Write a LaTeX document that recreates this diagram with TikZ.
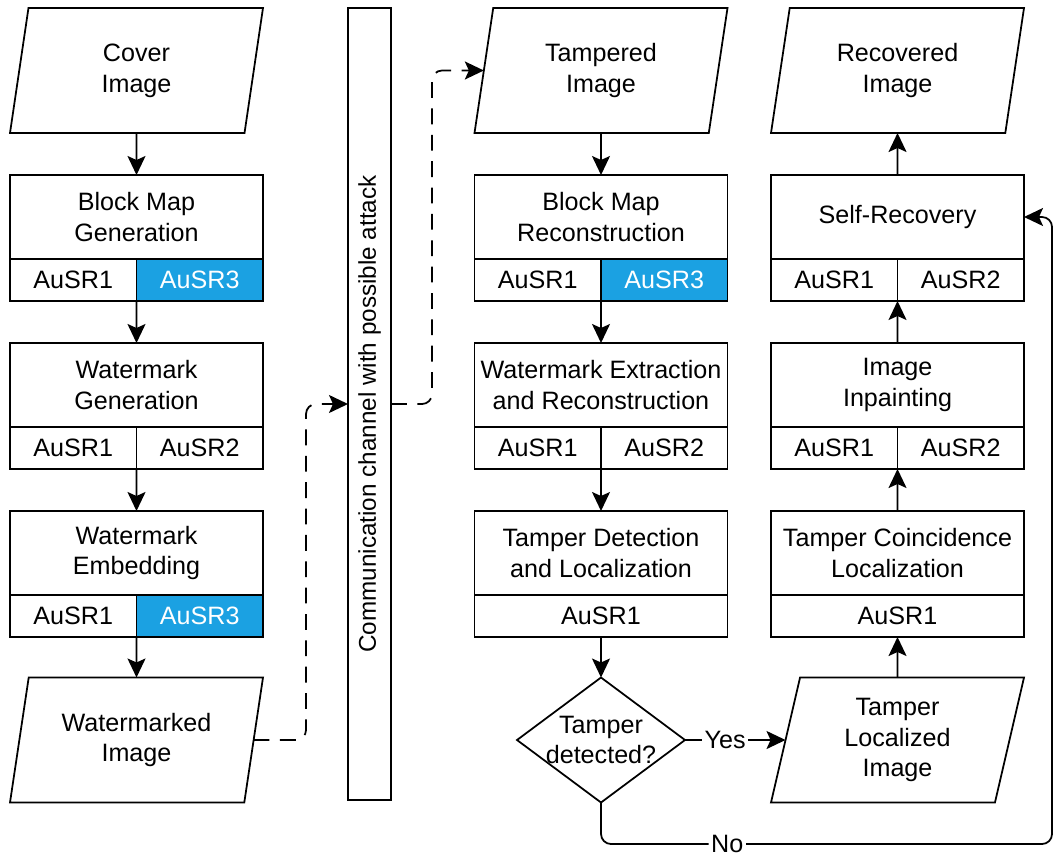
\documentclass[tikz,border=0pt]{standalone}
\usepackage{fontspec}
\setmainfont{Liberation Sans}
\usetikzlibrary{shapes.geometric,arrows.meta,positioning}

\definecolor{ausrblau}{RGB}{27,161,226}

\tikzset{
	schritt/.style={draw, line width=1pt, minimum width=5.06cm, minimum height=1.68cm, inner sep=0pt, outer sep=0pt, align=center},
	teil/.style={draw, line width=1pt, minimum width=2.53cm, minimum height=0.84cm, inner sep=0pt, outer sep=0pt},
	teilbreit/.style={teil, minimum width=5.06cm},
	markiert/.style={fill=ausrblau, text=white},
	bild/.style={draw, line width=1pt, trapezium, trapezium left angle=71, trapezium right angle=109,
		trapezium stretches body=true, minimum width=5.06cm, minimum height=2.5cm, inner sep=0pt, outer sep=0pt, align=center},
	frage/.style={draw, line width=1pt, diamond, aspect=1.34, inner sep=-0.6cm, outer sep=0pt,
		minimum width=3.36cm, minimum height=2.5cm, align=center},
	pfeil/.style={line width=1pt, -{Stealth[length=0.38cm, width=0.36cm, inset=0.08cm]}},
	funk/.style={pfeil, dash pattern=on 9pt off 6pt, rounded corners=0.2cm},
	marke/.style={fill=white, inner xsep=1.5pt, inner ysep=0pt}
}

\begin{document}
\begin{tikzpicture}[font=\fontsize{14.3pt}{17.6pt}\selectfont]
			\useasboundingbox (0,0) rectangle (21.14,-17.12);
			
			% Linke Spalte: Einbetten des Wasserzeichens
			\node[bild] (cover) at (2.73,-1.41) {Cover\\Image};
			\node[schritt] (bmg) at (2.73,-4.34) {Block Map\\Generation};
			\node[teil, anchor=north west] (bmgA) at (bmg.south west) {AuSR1};
			\node[teil, markiert, anchor=north east] (bmgB) at (bmg.south east) {AuSR3};
			\node[schritt] (wmg) at (2.73,-7.7) {Watermark\\Generation};
			\node[teil, anchor=north west] (wmgA) at (wmg.south west) {AuSR1};
			\node[teil, anchor=north east] (wmgB) at (wmg.south east) {AuSR2};
			\node[schritt] (wme) at (2.73,-11.06) {Watermark\\Embedding};
			\node[teil, anchor=north west] (wmeA) at (wme.south west) {AuSR1};
			\node[teil, markiert, anchor=north east] (wmeB) at (wme.south east) {AuSR3};
			\node[bild] (wmi) at (2.73,-14.8) {Watermarked\\Image};
			
			% Kanal in der Mitte (Text etwas nach unten versetzt)
			\node[draw, line width=1pt, rotate=90, minimum width=15.84cm, minimum height=0.86cm, inner sep=0pt,
				outer sep=0pt, font=\fontsize{13.8pt}{16pt}\selectfont]
				(kanal) at (7.39,-8.08) {Communication channel with possible attack\kern0.4cm};
			
			% Mittlere Spalte: Erkennung der Manipulation
			\node[bild] (ti) at (12.02,-1.41) {Tampered\\Image};
			\node[schritt] (bmr) at (12.02,-4.34) {Block Map\\Reconstruction};
			\node[teil, anchor=north west] (bmrA) at (bmr.south west) {AuSR1};
			\node[teil, markiert, anchor=north east] (bmrB) at (bmr.south east) {AuSR3};
			\node[schritt] (wer) at (12.02,-7.7) {Watermark Extraction\\and Reconstruction};
			\node[teil, anchor=north west] (werA) at (wer.south west) {AuSR1};
			\node[teil, anchor=north east] (werB) at (wer.south east) {AuSR2};
			\node[schritt] (tdl) at (12.02,-11.06) {Tamper Detection\\and Localization};
			\node[teilbreit, anchor=north] (tdlA) at (tdl.south) {AuSR1};
			\node[frage] (dec) at (12.02,-14.8) {Tamper\\detected?};
			
			% Rechte Spalte: Wiederherstellung
			\node[bild] (ri) at (17.95,-1.41) {Recovered\\Image};
			\node[schritt] (sr) at (17.95,-4.34) {Self-Recovery};
			\node[teil, anchor=north west] (srA) at (sr.south west) {AuSR1};
			\node[teil, anchor=north east] (srB) at (sr.south east) {AuSR2};
			\node[schritt] (ip) at (17.95,-7.7) {Image\\Inpainting};
			\node[teil, anchor=north west] (ipA) at (ip.south west) {AuSR1};
			\node[teil, anchor=north east] (ipB) at (ip.south east) {AuSR2};
			\node[schritt] (tcl) at (17.95,-11.06) {Tamper Coincidence\\Localization};
			\node[teilbreit, anchor=north] (tclA) at (tcl.south) {AuSR1};
			\node[bild] (tli) at (17.95,-14.8) {Tamper\\Localized\\Image};
			\coordinate (nein) at (21.04,-16.88);
			
			% Pfeile links
			\draw[pfeil] (cover) -- (bmg);
			\draw[pfeil] (bmgA.south east) -- (wmg);
			\draw[pfeil] (wmgA.south east) -- (wme);
			\draw[pfeil] (wmeA.south east) -- (wmi);
			
			% Gestrichelte Wege durch den Kanal
			\draw[funk] (wmi) -- ++(3.39,0) |- (kanal.north);
			\draw[funk] (kanal.south) -- ++(0.82,0) |- (ti);
			
			% Pfeile mitte
			\draw[pfeil] (ti) -- (bmr);
			\draw[pfeil] (bmrA.south east) -- (wer);
			\draw[pfeil] (werA.south east) -- (tdl);
			\draw[pfeil] (tdlA) -- (dec);
			\draw[pfeil] (dec) -- node[marke, pos=0.4] {Yes} (tli);
			\draw[pfeil, rounded corners=0.2cm] (dec.south) |- node[marke, pos=0.64] {No} (nein) |- (sr.east);
			
			% Pfeile rechts (nach oben)
			\draw[pfeil] (tli) -- (tclA);
			\draw[pfeil] (tcl) -- (ipA.south east);
			\draw[pfeil] (ip) -- (srA.south east);
			\draw[pfeil] (sr) -- (ri);
		\end{tikzpicture}
\end{document}
